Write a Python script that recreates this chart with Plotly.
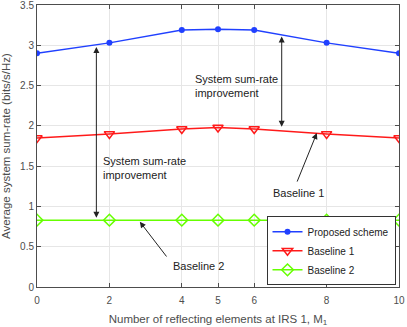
import plotly.graph_objects as go

# -------------------------------------------------
# data
# -------------------------------------------------
m1 = [0, 2, 4, 5, 6, 8, 10]
proposed = [2.90, 3.03, 3.19, 3.20, 3.19, 3.03, 2.90]
baseline1 = [1.85, 1.90, 1.96, 1.98, 1.96, 1.90, 1.85]
baseline2 = [0.83, 0.83, 0.83, 0.83, 0.83, 0.83, 0.83]
x_ticks = [0, 2, 4, 5, 6, 8, 10]

FONT = "Liberation Sans, Arial, sans-serif"
GRID = "#e6e6e6"
AXIS = "#4d4d4d"

fig = go.Figure()

fig.add_trace(go.Scatter(
    x=m1, y=proposed, name="Proposed scheme",
    mode="lines+markers",
    line=dict(color="#2040ff", width=1.5),
    marker=dict(symbol="circle", size=6, color="#2040ff")
))
fig.add_trace(go.Scatter(
    x=m1, y=baseline1, name="Baseline 1",
    mode="lines+markers",
    line=dict(color="#ff1a1a", width=1.5),
    marker=dict(symbol="triangle-down-open", size=9, color="#ff1a1a", line=dict(width=1.5))
))
fig.add_trace(go.Scatter(
    x=m1, y=baseline2, name="Baseline 2",
    mode="lines+markers",
    line=dict(color="#66ff00", width=1.5),
    marker=dict(symbol="diamond-open", size=9, color="#66ff00", line=dict(width=1.5))
))

# double arrows for the improvement
arrow = dict(xref="x", yref="y", axref="x", ayref="y", text="", showarrow=True,
             arrowhead=2, arrowsize=1.2, arrowwidth=1, arrowcolor="#222222")
fig.add_annotation(x=1.64, y=2.98, ax=1.64, ay=0.84, arrowside="end+start", **arrow)
fig.add_annotation(x=6.76, y=3.11, ax=6.76, ay=1.97, arrowside="end+start", **arrow)

# arrows pointing at the baselines
fig.add_annotation(x=7.73, y=1.91, ax=7.17, ay=1.29, **arrow)
fig.add_annotation(x=2.84, y=0.81, ax=3.61, ay=0.36, **arrow)

text_style = dict(xref="x", yref="y", showarrow=False, font=dict(family=FONT, size=11, color="#222222"))
fig.add_annotation(x=1.78, y=1.48, text="System sum-rate<br>improvement",
                   xanchor="left", align="left", **text_style)
fig.add_annotation(x=4.30, y=2.50, text="System sum-rate<br>improvement",
                   xanchor="left", align="left", **text_style)
fig.add_annotation(x=7.21, y=1.17, text="Baseline 1", **text_style)
fig.add_annotation(x=4.47, y=0.26, text="Baseline 2", **text_style)

fig.update_layout(
    width=407, height=327,
    margin=dict(l=37, r=8, t=5, b=40),
    paper_bgcolor="white", plot_bgcolor="white",
    font=dict(family=FONT, size=10, color=AXIS),
    showlegend=True,
    legend=dict(
        x=0.634, y=0.006, xanchor="left", yanchor="bottom",
        bgcolor="white", bordercolor="#333333", borderwidth=1,
        font=dict(size=10, color="#222222"),
        tracegroupgap=0, itemwidth=30
    ),
    xaxis=dict(
        range=[0, 10], tickvals=x_ticks, automargin=False, ticklabelstandoff=4,
        title=dict(text="Number of reflecting elements at IRS 1, M<sub>1</sub>",
                   font=dict(size=11.5, color=AXIS)),
        showgrid=True, gridcolor=GRID, zeroline=False,
        showline=True, linecolor=AXIS, mirror="ticks",
        ticks="inside", ticklen=4, tickcolor=AXIS
    ),
    yaxis=dict(
        range=[0, 3.5], dtick=0.5, automargin=False, ticklabeloverflow="allow",
        title=dict(text="Average system sum-rate (bits/s/Hz)",
                   font=dict(size=11.5, color=AXIS)),
        showgrid=True, gridcolor=GRID, zeroline=False,
        showline=True, linecolor=AXIS, mirror="ticks",
        ticks="inside", ticklen=4, tickcolor=AXIS
    )
)

# the page body has a default 8px margin; drop it so the figure fills the window
fig.write_html("out.html", config={"displayModeBar": False},
               post_script="document.body.style.margin = '0';")
